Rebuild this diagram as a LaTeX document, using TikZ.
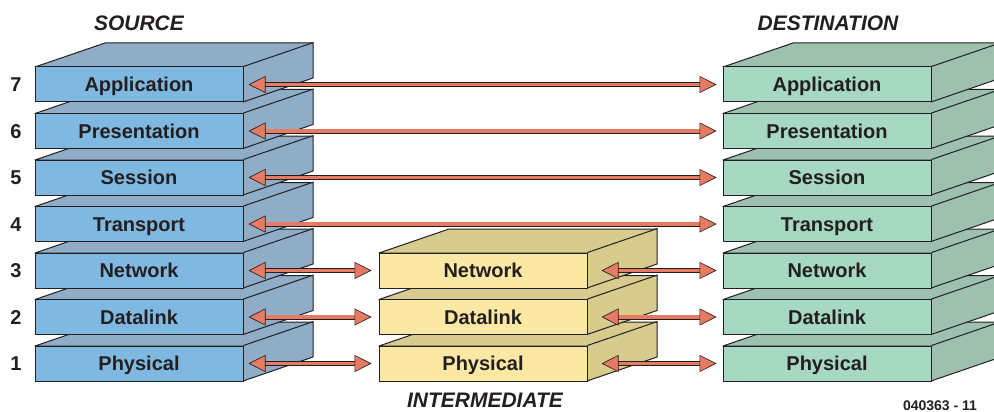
\documentclass[tikz,border=0pt]{standalone}
\usepackage{fontspec}
\setmainfont{Liberation Sans}
\usepackage{xcolor}
\usetikzlibrary{arrows.meta}
\definecolor{ink}{HTML}{231F20}
\definecolor{srcfront}{HTML}{7FB9E2}
\definecolor{srcside}{HTML}{8FADC7}
\definecolor{midfront}{HTML}{FAE8A4}
\definecolor{midside}{HTML}{D8CB8E}
\definecolor{dstfront}{HTML}{A6D8C2}
\definecolor{dstside}{HTML}{9DC0AF}
\definecolor{salmon}{HTML}{E67A62}

\begin{document}
\begin{tikzpicture}[x=1pt,y=-1pt,
    front/.style={draw=ink, line width=1pt, minimum width=208pt, minimum height=35pt,
      inner sep=0pt, text height=14.5pt, text depth=0pt, text=ink, font=\fontsize{20}{24}\selectfont\bfseries},
    face/.style={draw=ink, line width=1pt, line join=round},
    link/.style={draw=ink, line width=0.6pt, double=salmon, double distance=3.8pt,
      {Triangle[fill=salmon, length=17pt, width=17pt]}-{Triangle[fill=salmon, length=17pt, width=17pt]}},
    num/.style={text height=14.5pt, text depth=0pt, text=ink, font=\fontsize{20}{24}\selectfont\bfseries},
    head/.style={text=ink, font=\fontsize{21}{25}\selectfont\bfseries\itshape},
    tag/.style={text=ink, font=\fontsize{14}{17}\selectfont\bfseries}]
    \useasboundingbox (0,0) rectangle (994,412);
    \clip (0,0) rectangle (994,412);
    % source stack
    \foreach \n/\t in {1/Physical,2/Datalink,3/Network,4/Transport,5/Session,6/Presentation,7/Application}{
        \pgfmathsetmacro\yt{346-46.5*(\n-1)}
        \filldraw[face, fill=srcside] (35,\yt) -- ++(70,-24) -- ++(208,0) -- ++(0,35) -- ++(-70,24) -- ++(0,-35) -- cycle;
        \node[front, fill=srcfront] (s\n) at (139,\yt+17.5) {\t};
        \draw[face] (s\n.north east) -- ++(70,-24);
        \node[num] (l\n) at (16,\yt+17.5) {\n};
    }
    % intermediate stack
    \foreach \n/\t in {1/Physical,2/Datalink,3/Network}{
        \pgfmathsetmacro\yt{346-46.5*(\n-1)}
        \filldraw[face, fill=midside] (379,\yt) -- ++(70,-24) -- ++(208,0) -- ++(0,35) -- ++(-70,24) -- ++(0,-35) -- cycle;
        \node[front, fill=midfront] (i\n) at (483,\yt+17.5) {\t};
        \draw[face] (i\n.north east) -- ++(70,-24);
    }
    % destination stack
    \foreach \n/\t in {1/Physical,2/Datalink,3/Network,4/Transport,5/Session,6/Presentation,7/Application}{
        \pgfmathsetmacro\yt{346-46.5*(\n-1)}
        \filldraw[face, fill=dstside] (723,\yt) -- ++(70,-24) -- ++(208,0) -- ++(0,35) -- ++(-70,24) -- ++(0,-35) -- cycle;
        \node[front, fill=dstfront] (d\n) at (827,\yt+17.5) {\t};
        \draw[face] (d\n.north east) -- ++(70,-24);
    }
    % peer links
    \foreach \n in {4,...,7}
        \draw[link, shorten <=5pt, shorten >=6pt] (s\n.east) -- (d\n.west);
    \foreach \n in {1,2,3}{
        \draw[link, shorten <=5pt, shorten >=7pt] (s\n.east) -- (i\n.west);
        \draw[link, shorten <=14pt, shorten >=6pt] (i\n.east) -- (d\n.west);
    }
    \node[head] (src) at (139,23) {SOURCE};
    \node[head] (dst) at (828,23) {DESTINATION};
    \node[head] (mid) at (485,400) {INTERMEDIATE};
    \node[tag] (fig) at (940,406) {040363 - 11};
\end{tikzpicture}
\end{document}
